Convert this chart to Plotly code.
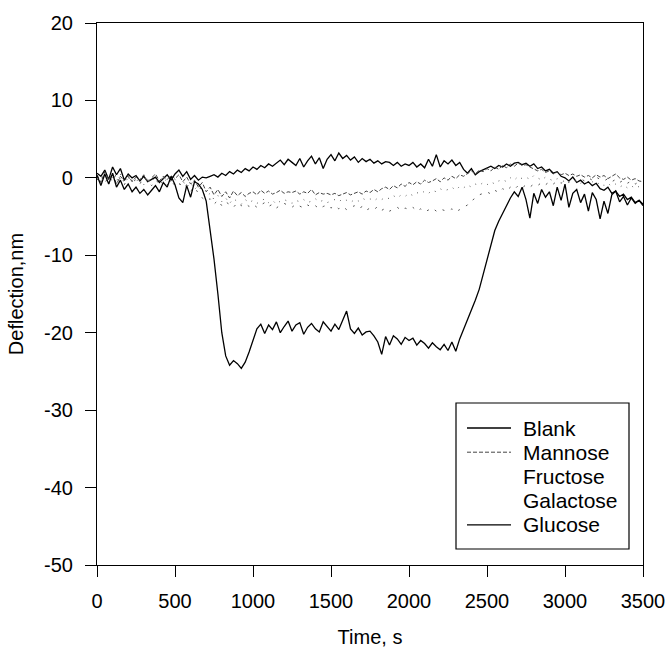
import plotly.graph_objects as go

# Sampling times (s)
time_s = list(range(0, 3501, 25))

blank = [
    0.6, 0.2, 1.0, -0.2, 1.4, 0.4, 1.2, -0.3, 0.5, 0.0,
    0.3, -0.4, 0.2, -0.5, -0.2, 0.1, -0.6, -0.1, 0.4, -0.3,
    0.5, 1.0, 0.2, 0.8, -0.2, 0.3, -0.3, 0.1, 0.0, 0.2,
    0.4, 0.1, 0.6, 0.3, 0.8, 0.5, 1.0, 0.7, 1.2, 0.9,
    1.4, 1.1, 1.6, 1.3, 1.8, 1.5, 1.9, 2.3, 1.7, 2.4,
    2.0, 1.6, 2.5, 1.4, 2.2, 2.8, 1.8, 2.6, 1.2, 2.4,
    3.0, 2.2, 3.2, 2.5, 2.9, 2.3, 2.7, 2.0, 2.5, 2.1,
    2.4, 1.9, 2.2, 1.8, 2.1, 2.0, 1.6, 2.0, 1.5, 1.8,
    1.6, 2.0, 1.4, 1.8, 1.3, 2.4, 1.5, 3.0, 1.4, 2.2,
    1.8, 2.3, 1.6, 2.0, 1.1, 0.6, 1.2, 0.4, 0.8, 1.0,
    1.3, 1.5, 1.2, 1.6, 1.4, 1.8, 1.5, 1.9, 2.0, 1.7,
    1.9, 1.5, 1.8, 1.2, 1.4, 0.9, 1.1, 0.6, 0.8, 0.2,
    0.0, -0.4, 0.1, -0.6, -0.3, -0.8, -0.5, -1.0, -0.7, -1.4,
    -1.6, -1.2, -2.0, -1.7, -2.4, -2.1, -2.8, -2.5, -3.2, -2.9,
    -3.4,
]

mannose = [
    0.4, -0.6, 0.8, -0.2, 0.5, -0.8, 0.2, -0.4, 0.3, -0.5,
    0.1, -0.3, 0.4, -0.6, 0.0, 0.5, -0.4, 0.2, -0.2, 0.3,
    -0.1, 0.4, -0.5, 0.1, -0.8, -0.3, -1.2, -0.6, -1.8, -1.2,
    -2.2, -1.5, -2.4, -1.8, -2.6, -1.7, -2.3, -1.9, -2.4, -2.0,
    -1.8, -2.2, -1.6, -2.0, -1.7, -2.1, -1.9, -1.6, -2.0, -1.8,
    -1.9, -1.7, -2.1, -1.8, -2.0, -1.5, -2.2, -1.9, -2.1, -2.0,
    -2.2, -2.0, -2.3, -2.1, -1.9, -2.2, -2.0, -1.8, -2.1, -1.7,
    -1.9, -1.5, -1.8, -1.4, -1.2, -1.5, -1.0, -1.3, -0.8, -1.1,
    -0.6, -0.9, -0.5, -0.8, -0.3, -0.6, -0.4, -0.1, -0.5, 0.0,
    -0.3, 0.2, -0.1, 0.4, 0.2, 0.6, 0.9, 0.5, 1.0, 0.8,
    1.2, 0.9, 1.4, 1.1, 1.6, 1.3, 1.8, 1.5, 1.9, 1.6,
    1.7, 1.4, 1.2, 0.9, 1.1, 0.7, 0.9, 0.5, 0.8, 0.4,
    0.6, 0.3, 0.5, 0.2, 0.4, 0.1, 0.3, 0.0, 0.4, 0.1,
    0.3, -0.1, 0.2, 0.5, 0.0, -0.2, 0.1, -0.3, -0.1, -0.4,
    -0.5,
]

fructose = [
    0.2, -0.5, 0.6, -0.8, 0.1, -0.4, 0.5, -0.7, 0.0, -0.3,
    -0.6, 0.2, -0.9, -0.2, -0.5, 0.3, -0.4, -0.8, 0.0, -0.6,
    -0.2, -0.9, -0.4, -1.2, -0.6, -1.5, -1.0, -1.8, -2.4, -2.0,
    -2.8, -2.3, -3.1, -2.6, -3.3, -2.7, -3.0, -3.4, -2.8, -3.2,
    -2.9, -3.3, -3.0, -2.7, -3.2, -2.9, -3.4, -3.0, -2.8, -3.1,
    -3.3, -2.9, -3.1, -2.8, -3.2, -3.0, -2.7, -3.1, -2.9, -3.2,
    -3.0, -2.8, -3.1, -2.7, -2.9, -3.2, -2.8, -3.0, -2.6, -2.9,
    -2.7, -3.0, -2.6, -2.8, -2.5, -2.7, -2.3, -2.6, -2.2, -2.4,
    -2.0, -2.3, -1.9, -2.1, -1.7, -2.0, -1.6, -1.8, -1.4, -1.7,
    -1.5, -1.2, -1.6, -1.1, -1.3, -0.9, -1.2, -0.8, -1.0, -0.6,
    -0.9, -0.5, -0.8, -0.4, -0.2, -0.5, 0.0, -0.3, 0.2, -0.1,
    0.1, -0.2, 0.3, 0.0, -0.3, 0.1, -0.2, -0.4, -0.1, -0.3,
    -0.5, -0.2, -0.6, -0.3, -0.7, -0.4, -0.8, -0.5, -0.9, -0.6,
    -1.0, -0.7, -1.1, -0.8, -1.2, -0.9, -1.3, -1.0, -1.4, -1.1,
    -1.2,
]

galactose = [
    -0.3, 0.4, -0.7, 0.2, -0.5, 0.6, -0.2, -0.9, 0.1, -0.6,
    -0.2, -0.8, 0.1, -0.5, -1.0, -0.3, -0.7, 0.0, -0.9, -0.4,
    -1.0, -0.6, -1.3, -0.9, -1.7, -1.2, -2.0, -2.6, -3.0, -2.7,
    -3.4, -2.9, -3.6, -3.1, -3.5, -3.8, -3.2, -3.6, -3.3, -3.7,
    -3.4, -3.8, -3.5, -3.2, -3.7, -3.4, -3.9, -3.5, -3.3, -3.6,
    -3.8, -3.4, -3.7, -3.9, -3.5, -3.8, -3.6, -4.0, -3.7, -3.5,
    -3.9, -3.6, -4.0, -3.7, -4.1, -3.8, -3.6, -4.0, -3.7, -4.2,
    -3.9, -4.1, -3.7, -4.2, -3.9, -4.3, -4.0, -3.8, -4.2, -3.9,
    -4.1, -3.8, -4.3, -4.0, -4.4, -4.1, -3.9, -4.3, -4.0, -4.2,
    -4.3, -4.0, -4.4, -4.1, -3.8, -3.5, -3.0, -2.6, -2.2, -2.0,
    -1.8, -2.1, -1.6, -1.9, -1.4, -1.7, -1.2, -1.5, -1.0, -1.3,
    -0.9, -1.2, -0.8, -1.0, -0.6, -0.9, -0.5, -0.8, -0.4, -0.7,
    -0.3, -0.6, -0.2, -0.5, -0.1, -0.4, 0.0, -0.3, 0.1, -0.2,
    -0.4, -0.1, -0.5, -0.2, -0.6, -0.3, -0.7, -0.4, -0.8, -0.5,
    -0.6,
]

glucose = [
    0.3, -1.0, 0.5, -0.8, 0.6, -1.2, -0.3, -1.5, -0.8, -1.8,
    -1.2, -2.0, -1.5, -2.2, -1.6, -1.0, -1.8, -0.6, -1.2, 0.2,
    -0.9, -2.6, -3.2, -1.0, -2.5, -0.5, -0.8, -1.5, -3.0, -6.5,
    -10.5, -15.0, -20.0, -23.0, -24.2, -23.6, -24.0, -24.6, -23.8, -22.5,
    -21.0, -19.5, -18.9, -20.1, -19.0, -19.6, -18.6, -20.0, -19.2, -18.5,
    -19.8, -19.0, -18.7, -20.2, -19.3, -18.8, -19.5, -19.9, -18.6, -19.2,
    -19.8, -18.9, -19.6, -18.4, -17.2, -19.5, -20.1, -19.4, -20.3, -19.9,
    -19.8, -20.4, -21.2, -22.8, -20.5, -21.6, -20.4, -20.8, -21.5, -20.6,
    -21.0, -20.7, -21.6, -21.0, -21.4, -22.0, -21.3, -21.8, -22.2, -21.5,
    -22.3, -21.2, -22.4, -20.8, -19.6, -18.3, -17.0, -15.8, -14.4, -12.5,
    -10.6, -8.8, -6.8, -5.6, -4.6, -3.4, -2.6, -1.8, -2.4, -1.2,
    -2.8, -5.2, -2.0, -3.3, -1.5, -2.5, -1.8, -3.6, -1.2, -2.9,
    -0.8, -3.8, -2.0, -1.5, -3.2, -2.1, -4.3, -1.9, -2.8, -5.3,
    -3.0, -4.6, -2.2, -1.7, -3.1, -2.4, -3.5, -2.6, -3.3, -2.9,
    -3.6,
]

series_names = ["Blank", "Mannose", "Fructose", "Galactose", "Glucose"]
x_ticks = [0, 500, 1000, 1500, 2000, 2500, 3000, 3500]
y_ticks = [-50, -40, -30, -20, -10, 0, 10, 20]
y_tick_text = ["-50", "-40", "-30", "-20", "-10", "0", "10", "20"]

FONT = "Liberation Sans, Arial, sans-serif"
TXT = dict(family=FONT, size=20, color="black")

W, H = 671, 648
M = dict(l=97, r=28, t=23, b=83)
PLOT_W = W - M["l"] - M["r"]
PLOT_H = H - M["t"] - M["b"]


def paper_x(px):
    return (px - M["l"]) / PLOT_W


def paper_y(py):
    return (H - M["b"] - py) / PLOT_H


# per-series line style; sparse dotted series get no legend sample
styles = {
    "Blank": dict(line=dict(color="black", width=1.3), sample=True),
    "Mannose": dict(line=dict(color="#444444", width=1, dash="4px,2px"), sample=True),
    "Fructose": dict(line=dict(color="#555555", width=1, dash="1px,6px"), sample=False),
    "Galactose": dict(line=dict(color="#555555", width=1, dash="2px,7px"), sample=False),
    "Glucose": dict(line=dict(color="black", width=1.3), sample=True),
}
values = {"Blank": blank, "Mannose": mannose, "Fructose": fructose,
          "Galactose": galactose, "Glucose": glucose}

fig = go.Figure()
for name in series_names:
    fig.add_trace(go.Scatter(x=time_s, y=values[name], mode="lines", name=name,
                             line=styles[name]["line"], showlegend=False))

# legend panel in the lower right corner
box_l, box_r, box_t, box_b = 456, 629, 403, 549
row0, row_step = 428, 24.2
shapes = [dict(type="rect", xref="paper", yref="paper",
               x0=paper_x(box_l), x1=paper_x(box_r),
               y0=paper_y(box_b), y1=paper_y(box_t),
               line=dict(color="black", width=1.2), fillcolor="white", layer="above")]
annotations = []
for i, name in enumerate(series_names):
    yc = row0 + i * row_step
    if styles[name]["sample"]:
        ln = styles[name]["line"]
        shapes.append(dict(type="line", xref="paper", yref="paper",
                           x0=paper_x(467), x1=paper_x(511),
                           y0=paper_y(yc), y1=paper_y(yc),
                           line=dict(color=ln["color"], width=ln["width"],
                                     dash=ln.get("dash", "solid")),
                           layer="above"))
    annotations.append(dict(text=name, xref="paper", yref="paper",
                            x=paper_x(521), y=paper_y(yc),
                            xanchor="left", yanchor="middle", showarrow=False,
                            font=dict(family=FONT, size=21, color="black")))

axis_common = dict(
    showline=True, linecolor="black", linewidth=1.2, mirror=True,
    ticks="outside", ticklen=11, tickwidth=1, tickcolor="black",
    showgrid=False, zeroline=False, automargin=False,
    tickfont=TXT,
)

fig.update_xaxes(range=[0, 3500], tickvals=x_ticks,
                 ticklabelstandoff=7,
                 title=dict(text="Time, s", font=TXT, standoff=22),
                 **axis_common)
fig.update_yaxes(range=[-50, 20], tickvals=y_ticks, ticktext=y_tick_text,
                 ticklabelstandoff=8,
                 title=dict(text="Deflection,nm", font=TXT, standoff=14),
                 **axis_common)

fig.update_layout(
    width=W, height=H,
    margin=M,
    paper_bgcolor="white", plot_bgcolor="white",
    font=TXT,
    showlegend=False,
    shapes=shapes,
    annotations=annotations,
)

fig.write_html("out.html")
